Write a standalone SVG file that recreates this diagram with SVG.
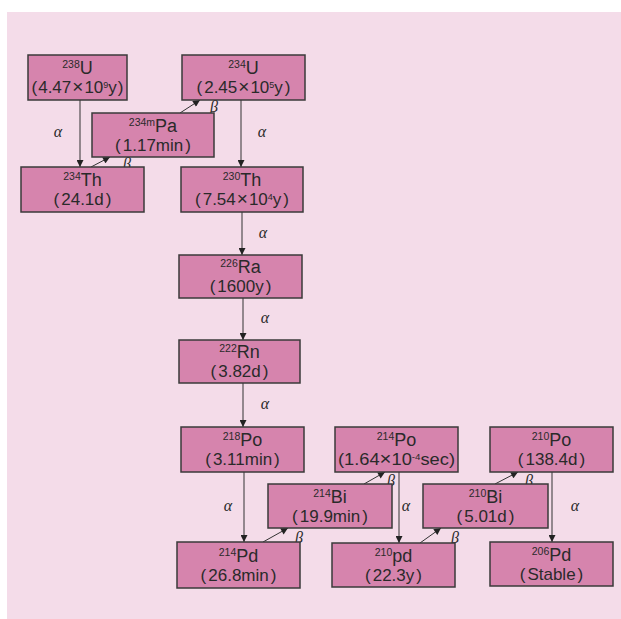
<svg xmlns="http://www.w3.org/2000/svg" width="621" height="619" viewBox="0 0 621 619">
<defs>
<style>
.bg{fill:#f4dce9}
.box{fill:#d684ad;stroke:#3a3a3a;stroke-width:1.5}
.t1{font-family:"Liberation Sans","Noto Sans CJK KR",sans-serif;font-size:18px;fill:#2a2a2a;text-anchor:middle}
.t2{font-family:"Liberation Sans","Noto Sans CJK KR",sans-serif;font-size:17px;fill:#2a2a2a;text-anchor:middle}
.sup{font-size:10.5px}
.sup2{font-size:9px}
.x{font-size:19px}
.lbl{font-family:"Liberation Serif","DejaVu Serif",serif;font-style:italic;font-size:16px;fill:#2a2a2a;text-anchor:middle}
.c{stroke:#333;stroke-width:1;fill:none;marker-end:url(#ah)}
</style>
<marker id="ah" viewBox="0 0 10 10" refX="10" refY="5" markerWidth="8" markerHeight="7" orient="auto" markerUnits="userSpaceOnUse">
<path d="M0,0 L10,5 L0,10 z" fill="#222"/>
</marker>
</defs>
<rect x="0" y="0" width="621" height="619" fill="#ffffff"/>
<rect class="bg" x="7" y="12" width="614" height="607"/>

<g id="connectors">
<line class="c" x1="80" y1="100" x2="80" y2="167"/>
<line class="c" x1="91" y1="167" x2="110" y2="157"/>
<line class="c" x1="180" y1="113" x2="200" y2="100"/>
<line class="c" x1="241" y1="100" x2="241" y2="167"/>
<line class="c" x1="242" y1="212" x2="242" y2="255"/>
<line class="c" x1="243" y1="298" x2="243" y2="340"/>
<line class="c" x1="243" y1="383" x2="243" y2="427"/>
<line class="c" x1="244" y1="472" x2="244" y2="542"/>
<line class="c" x1="263" y1="542" x2="288" y2="528"/>
<line class="c" x1="364" y1="484" x2="385" y2="472"/>
<line class="c" x1="399" y1="472" x2="399" y2="543"/>
<line class="c" x1="420" y1="543" x2="441" y2="528"/>
<line class="c" x1="495" y1="484" x2="518" y2="472"/>
<line class="c" x1="552" y1="472" x2="552" y2="542"/>
<text class="lbl" x="58" y="137">α</text>
<text class="lbl" x="127" y="169">β</text>
<text class="lbl" x="214" y="112">β</text>
<text class="lbl" x="262" y="137">α</text>
<text class="lbl" x="263" y="238">α</text>
<text class="lbl" x="265" y="323">α</text>
<text class="lbl" x="265" y="409">α</text>
<text class="lbl" x="228" y="511">α</text>
<text class="lbl" x="299" y="543">β</text>
<text class="lbl" x="391" y="486">β</text>
<text class="lbl" x="406" y="511">α</text>
<text class="lbl" x="455" y="543">β</text>
<text class="lbl" x="529" y="486">β</text>
<text class="lbl" x="575" y="511">α</text>
</g>

<g id="U238"><rect class="box" x="28" y="55" width="99" height="45"/>
<text class="t1" x="77.5" y="74"><tspan class="sup" dy="-6">238</tspan><tspan dy="6">U</tspan></text>
<text class="t2" x="77.5" y="93">(<tspan dx="1">4.47</tspan><tspan class="x" dx="1">×</tspan><tspan dx="1">10</tspan><tspan class="sup2" dy="-5">9</tspan><tspan dy="5">y</tspan><tspan dx="1">)</tspan></text></g>

<g id="U234"><rect class="box" x="182" y="55" width="123" height="45"/>
<text class="t1" x="243.5" y="74"><tspan class="sup" dy="-6">234</tspan><tspan dy="6">U</tspan></text>
<text class="t2" x="243.5" y="93">(<tspan dx="2">2.45</tspan><tspan class="x" dx="1">×</tspan><tspan dx="1">10</tspan><tspan class="sup2" dy="-5">5</tspan><tspan dy="5">y</tspan><tspan dx="2">)</tspan></text></g>

<g id="Pa234m"><rect class="box" x="92" y="113" width="122" height="44"/>
<text class="t1" x="153" y="132"><tspan class="sup" dy="-6">234m</tspan><tspan dy="6">Pa</tspan></text>
<text class="t2" x="153" y="151">(<tspan dx="2">1.17min</tspan><tspan dx="2">)</tspan></text></g>

<g id="Th234"><rect class="box" x="21" y="167" width="123" height="45"/>
<text class="t1" x="82.5" y="186"><tspan class="sup" dy="-6">234</tspan><tspan dy="6">Th</tspan></text>
<text class="t2" x="82.5" y="205">(<tspan dx="2">24.1d</tspan><tspan dx="2">)</tspan></text></g>

<g id="Th230"><rect class="box" x="181" y="167" width="122" height="45"/>
<text class="t1" x="242" y="186"><tspan class="sup" dy="-6">230</tspan><tspan dy="6">Th</tspan></text>
<text class="t2" x="242" y="205">(<tspan dx="2">7.54</tspan><tspan class="x" dx="1">×</tspan><tspan dx="1">10</tspan><tspan class="sup2" dy="-5">4</tspan><tspan dy="5">y</tspan><tspan dx="2">)</tspan></text></g>

<g id="Ra226"><rect class="box" x="179" y="255" width="123" height="43"/>
<text class="t1" x="240.5" y="273"><tspan class="sup" dy="-6">226</tspan><tspan dy="6">Ra</tspan></text>
<text class="t2" x="240.5" y="292">(<tspan dx="2">1600y</tspan><tspan dx="2">)</tspan></text></g>

<g id="Rn222"><rect class="box" x="179" y="340" width="121" height="43"/>
<text class="t1" x="239.5" y="358"><tspan class="sup" dy="-6">222</tspan><tspan dy="6">Rn</tspan></text>
<text class="t2" x="239.5" y="377">(<tspan dx="2">3.82d</tspan><tspan dx="2">)</tspan></text></g>

<g id="Po218"><rect class="box" x="181" y="427" width="123" height="45"/>
<text class="t1" x="242.5" y="446"><tspan class="sup" dy="-6">218</tspan><tspan dy="6">Po</tspan></text>
<text class="t2" x="242.5" y="465">(<tspan dx="2">3.11min</tspan><tspan dx="2">)</tspan></text></g>

<g id="Bi214"><rect class="box" x="268" y="484" width="124" height="44"/>
<text class="t1" x="330" y="503"><tspan class="sup" dy="-6">214</tspan><tspan dy="6">Bi</tspan></text>
<text class="t2" x="330" y="522">(<tspan dx="2">19.9min</tspan><tspan dx="2">)</tspan></text></g>

<g id="Pd214"><rect class="box" x="177" y="542" width="123" height="46"/>
<text class="t1" x="238.5" y="562"><tspan class="sup" dy="-6">214</tspan><tspan dy="6">Pd</tspan></text>
<text class="t2" x="238.5" y="581">(<tspan dx="2">26.8min</tspan><tspan dx="2">)</tspan></text></g>

<g id="Po214"><rect class="box" x="335" y="427" width="123" height="45"/>
<text class="t1" x="396.5" y="446"><tspan class="sup" dy="-6">214</tspan><tspan dy="6">Po</tspan></text>
<text class="t2" x="396.5" y="465" textLength="117" lengthAdjust="spacingAndGlyphs">(1.64<tspan class="x">×</tspan>10<tspan class="sup2" dy="-5">-4</tspan><tspan dy="5">sec</tspan>)</text></g>

<g id="Bi210"><rect class="box" x="423" y="484" width="125" height="44"/>
<text class="t1" x="485.5" y="503"><tspan class="sup" dy="-6">210</tspan><tspan dy="6">Bi</tspan></text>
<text class="t2" x="485.5" y="522">(<tspan dx="2">5.01d</tspan><tspan dx="2">)</tspan></text></g>

<g id="Pd210"><rect class="box" x="332" y="543" width="123" height="44"/>
<text class="t1" x="393.5" y="562"><tspan class="sup" dy="-6">210</tspan><tspan dy="6">pd</tspan></text>
<text class="t2" x="393.5" y="581">(<tspan dx="2">22.3y</tspan><tspan dx="2">)</tspan></text></g>

<g id="Po210"><rect class="box" x="490" y="427" width="123" height="45"/>
<text class="t1" x="551.5" y="446"><tspan class="sup" dy="-6">210</tspan><tspan dy="6">Po</tspan></text>
<text class="t2" x="551.5" y="465">(<tspan dx="2">138.4d</tspan><tspan dx="2">)</tspan></text></g>

<g id="Pd206"><rect class="box" x="490" y="542" width="123" height="44"/>
<text class="t1" x="551.5" y="561"><tspan class="sup" dy="-6">206</tspan><tspan dy="6">Pd</tspan></text>
<text class="t2" x="551.5" y="580">(<tspan dx="2">Stable</tspan><tspan dx="2">)</tspan></text></g>
</svg>
